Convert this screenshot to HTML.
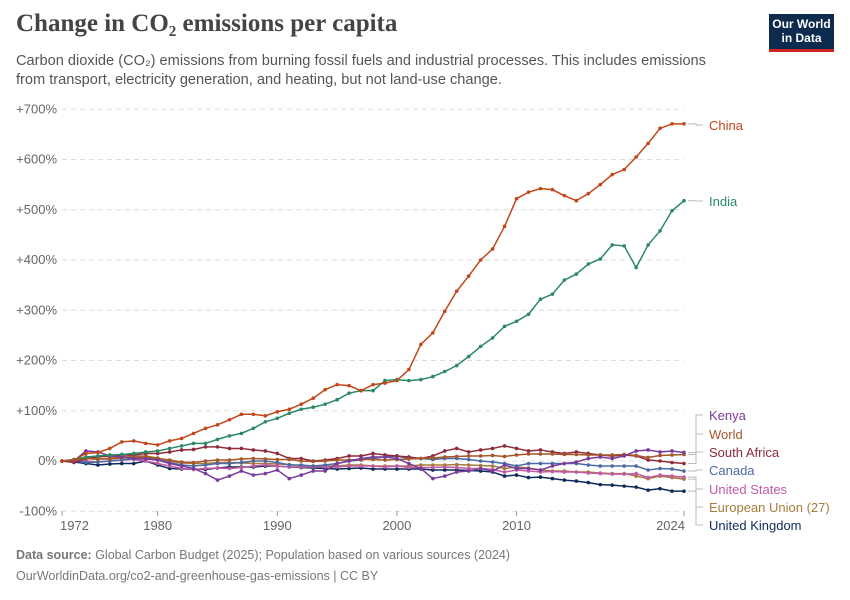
<!DOCTYPE html>
<html><head><meta charset="utf-8">
<style>
body{margin:0;background:#fff;font-family:"Liberation Sans",sans-serif;}
#wrap{position:relative;width:850px;height:600px;overflow:hidden}
h1{position:absolute;left:16px;top:10px;margin:0;font-family:"Liberation Serif",serif;font-size:25px;font-weight:bold;color:#444}
.sub{position:absolute;left:16px;top:52px;white-space:nowrap;font-size:14.6px;line-height:19px;color:#555}
.logo{position:absolute;left:769px;top:14px;width:65px;height:38px;background:#0d2a4f;color:#fff;font-size:12px;font-weight:bold;text-align:center;line-height:14px;padding-top:3px;box-sizing:border-box;border-bottom:3px solid #ce261e}
.foot{position:absolute;left:16px;font-size:12.5px;color:#777}
</style></head><body>
<div id="wrap">
<h1>Change in CO₂ emissions per capita</h1>
<div class="sub">Carbon dioxide (CO₂) emissions from burning fossil fuels and industrial processes. This includes emissions<br>from transport, electricity generation, and heating, but not land-use change.</div>
<div class="logo">Our World<br>in Data</div>
<svg id="chart" width="850" height="600" style="position:absolute;left:0;top:0"></svg>
<div class="foot" style="top:548px"><b>Data source:</b> Global Carbon Budget (2025); Population based on various sources (2024)</div>
<div class="foot" style="top:569px">OurWorldinData.org/co2-and-greenhouse-gas-emissions | CC BY</div>
</div>
<script>
const years=[];for(let y=1972;y<=2024;y++)years.push(y);
const yTicks=[-100,0,100,200,300,400,500,600,700];
const xTicks=[1972,1980,1990,2000,2010,2024];
const china=[0,2,15,17,25,38,40,35,32,40,45,55,65,72,82,93,93,90,98,103,113,125,142,152,150,140,152,155,160,182,232,255,298,338,368,400,422,467,522,535,542,540,528,518,532,550,570,580,605,632,662,671,671];
const india=[0,3,8,10,12,13,15,18,20,25,30,35,35,43,50,55,65,78,85,95,103,107,113,122,135,140,140,160,162,160,162,168,178,190,208,228,245,268,278,292,322,332,360,372,392,402,430,428,385,430,458,498,518];
const kenya=[0,0,20,18,10,8,5,4,2,-5,-10,-15,-25,-38,-30,-20,-28,-25,-18,-35,-28,-20,-20,-5,0,5,8,8,5,-5,-15,-35,-30,-22,-20,-15,-20,-8,-15,-15,-18,-10,-5,-2,5,8,5,10,20,22,18,20,17];
const world=[0,3,5,4,4,6,8,8,5,2,-2,-3,0,2,2,4,5,4,3,3,0,-1,0,2,2,3,3,2,3,4,5,6,8,9,10,10,11,9,12,14,14,14,13,13,12,12,12,13,11,7,11,12,13];
const southAfrica=[0,-3,5,8,10,12,12,15,15,18,22,23,28,28,25,25,22,20,15,5,5,0,2,5,10,10,15,12,10,8,5,10,20,25,18,22,25,30,25,20,22,18,15,18,15,12,10,12,10,2,0,-3,-5];
const canada=[0,0,-3,-2,0,2,5,6,3,-3,-8,-10,-8,-5,-5,-3,0,0,-3,-8,-8,-10,-8,-5,0,2,5,8,10,5,5,3,5,5,3,0,-2,-5,-10,-5,-5,-5,-5,-5,-8,-10,-10,-10,-10,-18,-15,-16,-20];
const us=[0,2,0,-2,0,2,3,0,-5,-10,-15,-17,-15,-14,-15,-13,-10,-8,-10,-12,-12,-12,-12,-12,-10,-10,-10,-12,-10,-13,-13,-13,-12,-13,-15,-15,-17,-22,-18,-20,-22,-21,-22,-22,-24,-25,-26,-26,-25,-33,-28,-30,-32];
const eu=[0,2,5,3,6,8,10,10,6,0,-4,-5,-5,-3,-3,-4,-5,-5,-6,-7,-10,-10,-10,-10,-8,-8,-10,-10,-10,-10,-8,-8,-8,-7,-8,-9,-10,-15,-12,-14,-18,-20,-20,-22,-22,-24,-25,-25,-30,-35,-30,-33,-36];
const uk=[0,-2,-5,-8,-6,-5,-5,0,-8,-15,-16,-16,-17,-14,-12,-12,-12,-10,-10,-12,-13,-14,-15,-16,-15,-14,-16,-16,-16,-16,-16,-18,-18,-18,-19,-20,-22,-30,-28,-33,-32,-35,-38,-40,-43,-47,-48,-50,-52,-58,-55,-60,-60];
const seriesNames=["China","India","Kenya","World","South Africa","Canada","United States","European Union (27)","United Kingdom"];
const seriesData=[china,india,kenya,world,southAfrica,canada,us,eu,uk];
const colors=["#c2461a","#2b8a64","#7a3a9a","#a5572a","#8e2a3a","#4a6aa5","#c25aa5","#a87a3a","#0e2a5c"];
const labelY=[129,205,419,438,456,474,493,511,529];
const svg=document.getElementById('chart');const NS="http://www.w3.org/2000/svg";
const X=y=>62+(y-1972)*(684-62)/52;
const Y=v=>461-v*50.25/100;
function mk(t,a){const e=document.createElementNS(NS,t);for(const k in a)e.setAttribute(k,a[k]);svg.appendChild(e);return e;}
yTicks.forEach(t=>{
 const l=mk('line',{x1:62,x2:684,y1:Y(t),y2:Y(t),stroke:'#ddd','stroke-dasharray':'5,4'});
 
 
 const tx=mk('text',{x:57,y:Y(t)+4,'text-anchor':'end','font-size':13,fill:'#666','font-family':'Liberation Sans'});
 tx.textContent=(t>0?'+':'')+t+'%';
 
 
});
xTicks.forEach(t=>{
 const l=mk('line',{x1:X(t),x2:X(t),y1:511,y2:516,stroke:'#999'});
 
 
 const tx=mk('text',{x:X(t),y:530,'text-anchor':t==2024?'end':(t==1972?'start':'middle'),'font-size':13,fill:'#666','font-family':'Liberation Sans'});
 if(t==2024)tx.setAttribute('x',X(t)+1);
 if(t==1972)tx.setAttribute('x',X(t)-2);
 tx.textContent=t;
 
 
});
for(let s=seriesData.length-1;s>=0;s--){
 const d=seriesData[s];const pts=d.map((v,i)=>X(years[i])+','+Y(v)).join(' ');
 const p=mk('polyline',{points:pts,fill:'none',stroke:colors[s],'stroke-width':1.5});
 
 
 d.forEach((v,i)=>{const c=mk('circle',{cx:X(years[i]),cy:Y(v),r:1.8,fill:colors[s]});
  
  });
 const last=Y(d[d.length-1]);
 const con=mk('polyline',{points:`688,${last} 696,${last} 696,${labelY[s]-4} 703,${labelY[s]-4}`,fill:'none',stroke:'#bbb','stroke-width':1});
 
 
 const tx=mk('text',{x:709,y:labelY[s]+1,'font-size':13,fill:colors[s],'font-family':'Liberation Sans'});
 tx.textContent=seriesNames[s];
 
 
}
</script>
</body></html>
